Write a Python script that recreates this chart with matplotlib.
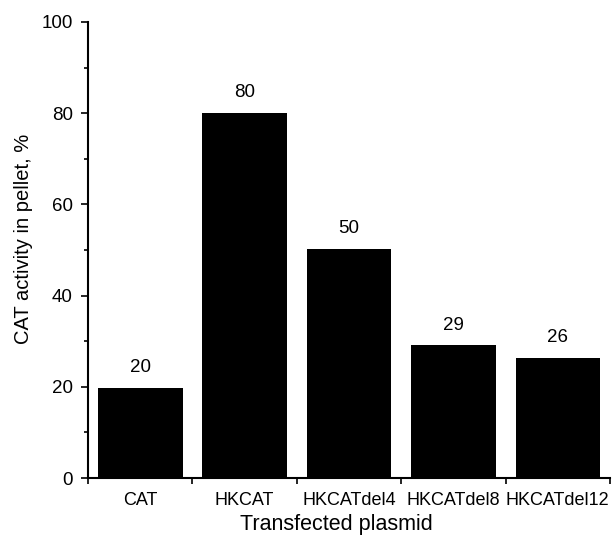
import matplotlib.pyplot as plt
import numpy as np

plt.rcParams['font.family'] = ['Liberation Sans', 'DejaVu Sans']

plasmids = ['CAT', 'HKCAT', 'HKCATdel4', 'HKCATdel8', 'HKCATdel12']
activity = [19.7, 80.1, 50.3, 29.1, 26.3]
labels = ['20', '80', '50', '29', '26']

fig = plt.figure(figsize=(6.13, 5.36), dpi=100)
ax = fig.add_axes([0.1436, 0.108, 0.8515, 0.851])

x = np.arange(len(plasmids))
ax.bar(x, activity, width=0.81, color='black')
for xi, v, lab in zip(x, activity, labels):
    ax.text(xi, v + 2.6, lab, ha='center', va='bottom', fontsize=13.5)

ax.set_xlim(-0.5, len(plasmids) - 0.5)
ax.set_ylim(0, 100)
ax.set_yticks(np.arange(0, 101, 20))
ax.set_yticks(np.arange(10, 100, 20), minor=True)
ax.set_xticks(np.arange(-0.5, len(plasmids), 1.0))
ax.set_xticklabels([])
ax.set_xticks(x, minor=True)
ax.set_xticklabels(plasmids, minor=True, fontsize=13)
ax.tick_params(axis='x', which='minor', length=0, pad=10)
ax.tick_params(axis='x', which='major', length=4, width=1.2, direction='out')
ax.tick_params(axis='y', which='major', length=5, width=1.2, labelsize=13.5, pad=6)
ax.tick_params(axis='y', which='minor', length=3, width=1.2)

for s in ['top', 'right']:
    ax.spines[s].set_visible(False)
for s in ['left', 'bottom']:
    ax.spines[s].set_linewidth(1.5)

ax.set_xlabel('Transfected plasmid', fontsize=15.5)
ax.set_ylabel('CAT activity in pellet, %', fontsize=14.5)
ax.xaxis.set_label_coords(0.475, -0.078)
ax.yaxis.set_label_coords(-0.105, 0.525)

fig.savefig('out.png', dpi=100)
